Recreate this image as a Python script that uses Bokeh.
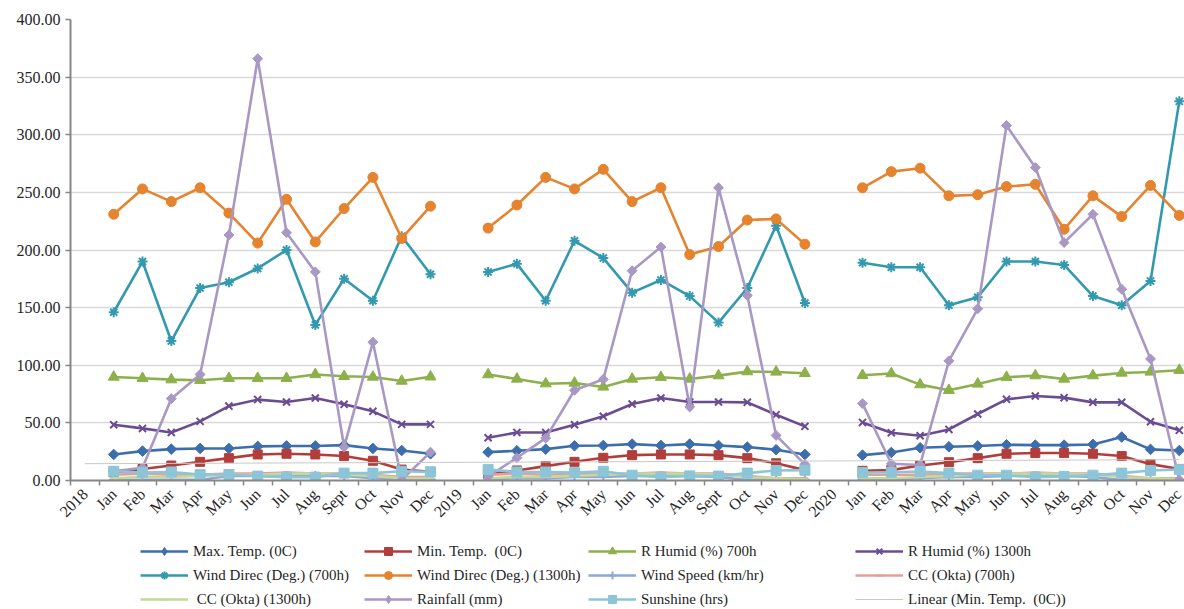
import math
import numpy as np
from bokeh.plotting import figure
from bokeh.layouts import column
from bokeh.models import Range1d, FixedTicker, NumeralTickFormatter, Legend, LegendItem
from bokeh.embed import file_html
from bokeh.resources import INLINE

# ---------------- data ----------------
years = ["2018", "2019", "2020"]
months = ["Jan", "Feb", "Mar", "Apr", "May", "Jun", "Jul", "Aug", "Sept", "Oct", "Nov", "Dec"]

max_temp = [22.6, 25.5, 27.2, 27.8, 27.8, 29.6, 30.0, 30.0, 30.7, 27.8, 26.0, 23.2,
            24.6, 25.8, 27.2, 30.1, 30.4, 31.6, 30.4, 31.6, 30.4, 29.0, 26.7, 22.6,
            22.0, 24.3, 28.4, 29.3, 30.0, 31.0, 30.7, 30.7, 31.3, 37.7, 27.0, 26.0]
min_temp = [7.0, 10.0, 13.0, 16.2, 19.4, 22.6, 23.2, 22.6, 21.2, 17.1, 9.5, 7.5,
            5.5, 8.7, 12.5, 16.2, 19.7, 22.0, 22.6, 22.6, 22.0, 19.4, 15.0, 9.0,
            8.4, 9.0, 13.0, 15.9, 19.4, 23.2, 23.8, 23.8, 23.2, 21.2, 14.2, 10.0]
r_humid_700 = [89.8, 88.7, 87.5, 87.0, 88.7, 88.7, 88.7, 92.0, 90.4, 89.8, 86.3, 90.0,
               91.9, 88.1, 84.0, 84.6, 81.2, 88.1, 89.6, 88.1, 91.0, 94.5, 94.2, 93.0,
               91.3, 92.8, 83.2, 78.3, 83.8, 89.6, 91.0, 88.1, 91.0, 93.3, 94.2, 95.7]
r_humid_1300 = [48.4, 45.2, 41.7, 51.3, 64.6, 70.2, 68.1, 71.6, 66.1, 60.0, 48.7, 48.7,
                37.1, 41.7, 41.7, 48.4, 55.7, 66.4, 71.6, 68.1, 68.1, 67.8, 57.1, 47.0,
                50.4, 41.4, 38.8, 44.3, 57.7, 70.4, 73.3, 71.9, 67.8, 67.8, 51.0, 43.5]
wind_dir_700 = [146, 190, 121, 167, 172, 184, 200, 135, 175, 156, 212, 179,
                181, 188, 156, 208, 193, 163, 174, 160, 137, 167, 221, 154,
                189, 185, 185, 152, 159, 190, 190, 187, 160, 152, 173, 329]
wind_dir_1300 = [231, 253, 242, 254, 232, 206, 244, 207, 236, 263, 210, 238,
                 219, 239, 263, 253, 270, 242, 254, 196, 203, 226, 227, 205,
                 254, 268, 271, 247, 248, 255, 257, 218, 247, 229, 256, 230]
wind_speed = [0.5, 0.5, 0.5, 0.5, 4.0, 4.0, 4.0, 4.0, 4.0, 2.0, 1.0, 1.0,
              1.0, 2.0, 2.0, 3.0, 3.0, 4.0, 4.0, 4.0, 3.0, 0.5, 1.0, 0.5,
              1.0, 1.0, 2.0, 3.0, 3.0, 4.0, 4.0, 4.0, 3.0, 0.5, 1.0, 0.5]
cc_700 = [5, 6, 5, 5, 6, 6, 7, 6, 6, 5, 3, 3,
          5, 6, 5, 6, 6, 6, 7, 6, 6, 4, 2, 2,
          5, 5, 5, 6, 6, 6, 7, 6, 6, 4, 2, 2]
cc_1300 = [2, 3, 3, 4, 5, 5, 6, 6, 5, 4, 2, 2,
           2, 3, 3, 4, 5, 6, 6, 6, 5, 3, 2, 1,
           2, 2, 3, 4, 5, 6, 6, 6, 5, 3, 2, 1]
rainfall = [8.0, 11.0, 71.0, 92.0, 213.0, 366.0, 215.0, 181.0, 29.0, 120.0, 0.6, 24.6,
            3.5, 19.7, 36.8, 78.3, 87.8, 182.0, 202.6, 63.8, 254.0, 160.6, 39.1, 14.0,
            66.7, 14.5, 13.5, 103.8, 149.0, 308.0, 271.6, 206.4, 231.0, 166.0, 105.5, 0.6]
sunshine = [8.0, 7.0, 7.4, 5.2, 5.2, 3.8, 2.9, 2.9, 6.4, 6.4, 8.0, 7.5,
            9.6, 7.4, 7.4, 7.0, 8.0, 4.6, 2.9, 4.0, 3.8, 6.4, 8.7, 9.0,
            7.0, 7.2, 7.8, 6.4, 4.6, 4.6, 2.9, 3.5, 4.6, 6.4, 8.7, 9.6]

# ---------------- category positions ----------------
n_cat = len(years) * (len(months) + 1)
labels = {}
pos = []
for k, yr in enumerate(years):
    base = k * (len(months) + 1)
    labels[base] = yr
    for m, mo in enumerate(months):
        labels[base + 1 + m] = mo
        pos.append(base + 1 + m)
x_all = list(range(n_cat))


def expand(vals):
    out = [float("nan")] * n_cat
    for i, v in enumerate(vals):
        out[pos[i]] = v
    return out


FONT = "'Liberation Serif', 'Times New Roman', serif"
TXT = "#262626"

p = figure(width=1184, height=535, output_backend="svg", toolbar_location=None,
           x_range=Range1d(-0.5, 38.18), y_range=Range1d(0, 400),
           min_border_left=70, min_border_right=0, min_border_top=19, min_border_bottom=55)
p.outline_line_color = None

# axes
p.yaxis.ticker = FixedTicker(ticks=list(range(0, 401, 50)))
p.yaxis.formatter = NumeralTickFormatter(format="0.00")
p.yaxis.major_label_text_font = FONT
p.yaxis.major_label_text_font_size = "16px"
p.yaxis.major_label_text_color = TXT
p.yaxis.axis_line_color = "#868686"
p.yaxis.axis_line_width = 2
p.yaxis.major_tick_line_color = "#868686"
p.yaxis.major_tick_line_width = 1.5
p.yaxis.major_tick_out = 5
p.yaxis.major_tick_in = 0
p.yaxis.minor_tick_line_color = None

p.xaxis.ticker = FixedTicker(ticks=x_all, minor_ticks=[i - 0.5 for i in range(n_cat + 1)])
p.xaxis.major_label_overrides = labels
p.xaxis.major_label_orientation = math.pi / 4
p.xaxis.major_label_text_font = FONT
p.xaxis.major_label_text_font_size = "16px"
p.xaxis.major_label_text_color = TXT
p.xaxis.axis_line_color = "#868686"
p.xaxis.axis_line_width = 2
p.xaxis.major_tick_line_color = None
p.xaxis.minor_tick_line_color = "#868686"
p.xaxis.minor_tick_line_width = 1.5
p.xaxis.minor_tick_out = 5
p.xaxis.minor_tick_in = 0

p.xgrid.grid_line_color = None
p.ygrid.ticker = FixedTicker(ticks=list(range(50, 401, 50)))
p.ygrid.grid_line_color = "#D9D9D9"
p.ygrid.grid_line_width = 1.5

# name, values, colour, chart marker, size, angle, legend marker, legend size
series = [
    ("Max. Temp. (0C)", max_temp, "#3C6EAE", "square", 7.5, math.pi / 4, "diamond", 12),
    ("Min. Temp.  (0C)", min_temp, "#B23E3B", "square", 9, 0, "square", 9),
    ("R Humid (%) 700h", r_humid_700, "#8DB04A", "triangle", 11, 0, "triangle", 11),
    ("R Humid (%) 1300h", r_humid_1300, "#6A4C93", "x", 10, 0, "x", 10),
    ("Wind Direc (Deg.) (700h)", wind_dir_700, "#3399AE", "asterisk", 10, 0, "asterisk", 10),
    ("Wind Direc (Deg.) (1300h)", wind_dir_1300, "#E6832E", "circle", 10, 0, "circle", 10),
    ("Wind Speed (km/hr)", wind_speed, "#8EA9D8", "cross", 10, 0, "cross", 10),
    ("CC (Okta) (700h)", cc_700, "#E0A09D", "dash", 7, 0, "dash", 7),
    (" CC (Okta) (1300h)", cc_1300, "#C4D89A", "dash", 7, 0, "dash", 7),
    ("Rainfall (mm)", rainfall, "#A898C4", "square", 7, math.pi / 4, "diamond", 11),
    ("Sunshine (hrs)", sunshine, "#8DC5D8", "square", 10, 0, "square", 10),
]

# legend figure (below the chart); its frame aligns with the chart frame (left = 70)
lg = figure(width=1184, height=74, output_backend="svg", toolbar_location=None,
            x_range=Range1d(0, 1), y_range=Range1d(0, 1),
            x_axis_location=None, y_axis_location=None,
            min_border_left=70, min_border_right=0, min_border_top=0, min_border_bottom=0)
lg.outline_line_color = None
lg.xgrid.grid_line_color = None
lg.ygrid.grid_line_color = None

OFF = [5.0]  # off-screen location for the legend-only proxy glyphs
items = []
for name, vals, col, mk, sz, ang, lmk, lsz in series:
    ys = expand(vals)
    lw = 2 if mk in ("x", "asterisk", "cross", "dash") else 1
    p.line(x_all, ys, line_color=col, line_width=2.6)
    p.scatter(x_all, ys, marker=mk, size=sz, angle=ang, fill_color=col,
              line_color=col, line_width=lw)
    gl = lg.line(OFF * 2, OFF * 2, line_color=col, line_width=2.6)
    gs = lg.scatter(OFF, OFF, marker=lmk, size=lsz, fill_color=col,
                    line_color=col, line_width=lw)
    items.append(LegendItem(label=name, renderers=[gl, gs]))

# linear trend line of Min. Temp.
mt = np.array(expand(min_temp))
ok = ~np.isnan(mt)
xa = np.array(x_all, dtype=float)
slope, icpt = np.polyfit(xa[ok], mt[ok], 1)
tx = [xa[0], xa[-1]]
p.line(tx, [icpt + slope * t for t in tx], line_color="#C8C8C8", line_width=1)
gt = lg.line(OFF * 2, OFF * 2, line_color="#C8C8C8", line_width=1)
items.append(LegendItem(label="Linear (Min. Temp.  (0C))", renderers=[gt]))

col_x = [140, 364, 588, 855]
for c in range(4):
    col_items = [items[r * 4 + c] for r in range(3)]
    leg = Legend(items=col_items, orientation="vertical", location=(col_x[c] - 70, 0))
    leg.label_text_font = FONT
    leg.label_text_font_size = "15px"
    leg.label_text_color = TXT
    leg.glyph_width = 48
    leg.glyph_height = 20
    leg.label_height = 20
    leg.label_standoff = 5
    leg.spacing = 4
    leg.padding = 0
    leg.margin = 0
    leg.border_line_color = None
    leg.background_fill_alpha = 0
    lg.add_layout(leg, "center")

layout = column(p, lg, spacing=0)
open("out.html", "w").write(file_html(layout, INLINE))
